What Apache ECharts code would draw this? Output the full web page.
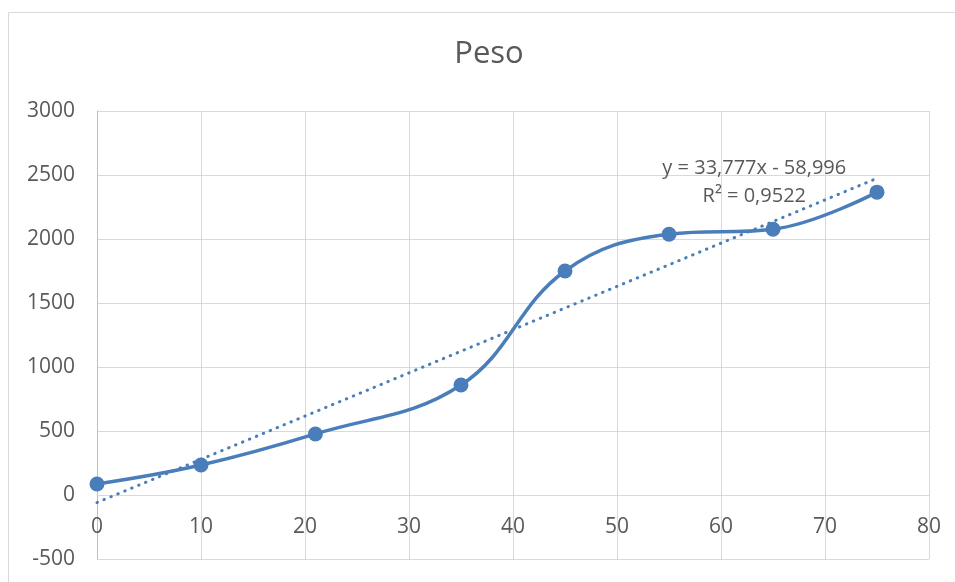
<!DOCTYPE html>
<html>
<head>
<meta charset="utf-8">
<script src="https://cdn.jsdelivr.net/npm/echarts@6/dist/echarts.min.js"></script>
<style>html,body{margin:0;padding:0;background:#fff;}#c{width:955px;height:582px;}</style>
</head>
<body>
<div id="c"></div>
<script>
var titleText = 'Peso';
var xValues = [0, 10, 21, 35, 45, 55, 65, 75];
var yValues = [86, 234, 477, 859, 1750, 2037, 2076, 2366];
var trendSlope = 33.777;
var trendIntercept = -58.996;
var trendLabel = 'y = 33,777x - 58,996\nR² = 0,9522';
var xTicks = {min: 0, max: 80, interval: 10};
var yTicks = {min: -500, max: 3000, interval: 500};

var color = '#4A7EBB';
var textColor = '#595959';
var font = 'Open Sans';

var pts = xValues.map(function (x, i) { return [x, yValues[i]]; });
var xMin = Math.min.apply(null, xValues), xMax = Math.max.apply(null, xValues);
var trend = [[xMin, trendSlope * xMin + trendIntercept], [xMax, trendSlope * xMax + trendIntercept]];

var gridTop = 111, gridBottom = 23, H = 582;
var plotH = H - gridTop - gridBottom;
var zeroOffset = -plotH * (0 - yTicks.min) / (yTicks.max - yTicks.min);

var chart = echarts.init(document.getElementById('c'), null, {renderer: 'canvas'});
chart.setOption({
  animation: false,
  backgroundColor: '#fff',
  title: {
    text: titleText, left: 489, top: 39, padding: 0, textAlign: 'center',
    textStyle: {fontFamily: font, fontSize: 31, fontWeight: 'normal', color: textColor}
  },
  graphic: [{
    type: 'rect', shape: {x: 8.5, y: 12.5, width: 1000, height: 1000},
    style: {fill: null, stroke: '#d9d9d9', lineWidth: 1}, silent: true, z: -1
  }],
  grid: {left: 97, right: 26, top: gridTop, bottom: gridBottom, containLabel: false, outerBoundsMode: 'none'},
  xAxis: {
    type: 'value', min: xTicks.min, max: xTicks.max, interval: xTicks.interval,
    position: 'bottom', offset: zeroOffset,
    axisLine: {onZero: false, lineStyle: {color: '#d9d9d9', width: 1}},
    axisTick: {show: false},
    axisLabel: {margin: 22, color: textColor, fontFamily: font, fontSize: 21,
      formatter: function (v) { return String(v); }},
    splitLine: {show: true, lineStyle: {color: '#d9d9d9', width: 1}}
  },
  yAxis: {
    type: 'value', min: yTicks.min, max: yTicks.max, interval: yTicks.interval,
    axisLine: {show: true, onZero: false, lineStyle: {color: '#bfbfbf', width: 1}},
    axisTick: {show: false},
    axisLabel: {margin: 22, color: textColor, fontFamily: font, fontSize: 21,
      formatter: function (v) { return String(v); }},
    splitLine: {show: true, lineStyle: {color: '#d9d9d9', width: 1}}
  },
  series: [
    {
      type: 'line', data: trend, symbol: 'none', z: 2,
      lineStyle: {color: color, width: 3, type: [0.5, 7], cap: 'round'},
      markPoint: {
        symbol: 'circle', symbolSize: 0,
        data: [{coord: [63.2, 2440]}],
        label: {show: true, position: 'inside', formatter: trendLabel, color: textColor,
          fontFamily: font, fontSize: 20, lineHeight: 28, align: 'center'}
      }
    },
    {
      type: 'line', data: pts, smooth: 0.4, symbol: 'circle', symbolSize: 15, z: 3,
      lineStyle: {color: color, width: 3.5},
      itemStyle: {color: color, borderWidth: 0}
    }
  ]
});
</script>
</body>
</html>
